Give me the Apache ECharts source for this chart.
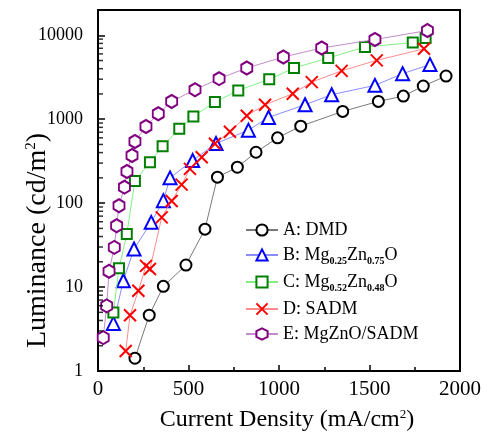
<!DOCTYPE html>
<html>
<head>
<meta charset="utf-8">
<script src="https://cdn.jsdelivr.net/npm/echarts@6/dist/echarts.min.js"></script>
<style>
html,body{margin:0;padding:0;background:#fff;}
#chart{width:493px;height:433px;}
</style>
</head>
<body>
<div id="chart"></div>
<script>
// ---- data (current density mA/cm2, luminance cd/m2) ----
const seriesNames = ['A: DMD', 'B: Mg0.25Zn0.75O', 'C: Mg0.52Zn0.48O', 'D: SADM', 'E: MgZnO/SADM'];

const xA = [204, 283, 361, 486, 591, 660, 770, 873, 992, 1120, 1352, 1549, 1687, 1797, 1923];
const yA = [1.42, 4.62, 10.2, 18.3, 49, 204, 268, 404, 600, 826, 1238, 1630, 1885, 2483, 3266];

const xB = [85, 140, 199, 294, 361, 398, 523, 652, 831, 942, 1144, 1291, 1530, 1683, 1834];
const yB = [3.69, 11.9, 28.4, 59, 107, 200, 322, 513, 740, 1050, 1488, 1959, 2530, 3490, 4470];

const xC = [85, 116, 159, 204, 287, 357, 449, 527, 646, 775, 946, 1083, 1272, 1475, 1739, 1810];
const yC = [4.97, 16.7, 42.9, 184, 307, 477, 769, 1079, 1599, 2204, 2984, 4074, 5356, 7250, 8180, 9290];

const xD = [153, 177, 223, 265, 287, 352, 407, 462, 508, 573, 646, 729, 822, 923, 1076, 1181, 1346, 1540, 1801];
const yD = [1.73, 4.62, 9.02, 17.9, 16.4, 67.7, 106, 166, 256, 352, 509, 708, 1099, 1488, 2014, 2768, 3767, 5026, 6900];

const xE = [29, 48, 61, 90, 103, 116, 146, 160, 188, 204, 265, 333, 407, 536, 669, 822, 1024, 1236, 1530, 1820];
const yE = [2.50, 5.97, 15.4, 29.7, 53.9, 93.3, 155, 238, 369, 543, 819, 1162, 1629, 2248, 3041, 4074, 5508, 7050, 8910, 11380];

const xTicks = [0, 500, 1000, 1500, 2000];
const yTicks = [1, 10, 100, 1000, 10000];
const yMinorTicks = [2,3,4,5,6,7,8,9,20,30,40,50,60,70,80,90,200,300,400,500,600,700,800,900,2000,3000,4000,5000,6000,7000,8000,9000];

// ---- styles ----
const FONT = 'Liberation Serif';
const hexPath = 'path://M0,-1L0.866,-0.5L0.866,0.5L0,1L-0.866,0.5L-0.866,-0.5Z';
const xPath = 'path://M0,0L1,1M1,0L0,1';

function zip(xs, ys) { return xs.map((x, i) => [x, ys[i]]); }

const styles = [
  { data: zip(xA, yA), symbol: 'circle', size: 11, mark: '#000000', line: '#7a7a7a' },
  { data: zip(xB, yB), symbol: 'triangle', size: 13, mark: '#0000ff', line: '#8c8cff' },
  { data: zip(xC, yC), symbol: 'rect', size: 10, mark: '#008000', line: '#84f084' },
  { data: zip(xD, yD), symbol: xPath, size: 12, mark: '#ff0000', line: '#ff8c8c' },
  { data: zip(xE, yE), symbol: hexPath, size: [11, 13], mark: '#800080', line: '#c48ccc' }
];

const series = styles.map((s, i) => ({
  name: seriesNames[i],
  type: 'line',
  data: s.data,
  symbol: s.symbol,
  symbolSize: s.size,
  showAllSymbol: true,
  z: 3 + i,
  lineStyle: { color: s.line, width: 1 },
  itemStyle: { color: '#ffffff', borderColor: s.mark, borderWidth: 2 },
  emphasis: { disabled: true },
  animation: false
}));

// minor log ticks on the y axis, placed through the axis scale
series.push({
  name: 'minorTicks',
  type: 'scatter',
  silent: true,
  animation: false,
  clip: false,
  data: yMinorTicks.map(v => [0, v]),
  symbol: 'rect',
  symbolSize: [4, 1.5],
  symbolOffset: [3, 0],
  itemStyle: { color: '#000' },
  z: 10
});

const chart = echarts.init(document.getElementById('chart'), null, { renderer: 'canvas' });

const legendRich = {
  n: { fontFamily: FONT, fontSize: 18, lineHeight: 22, color: '#000', verticalAlign: 'middle' },
  s: { fontFamily: FONT, fontSize: 10, fontWeight: 'bold', lineHeight: 10, color: '#000', verticalAlign: 'bottom' }
};

chart.setOption({
  backgroundColor: '#ffffff',
  animation: false,
  grid: { left: 98, right: 33, top: 10, bottom: 62, show: true, borderColor: '#000', borderWidth: 2,
          backgroundColor: 'transparent', containLabel: false, outerBoundsMode: 'none' },
  legend: {
    data: seriesNames,
    orient: 'vertical',
    left: 240,
    top: 216,
    itemWidth: 32,
    itemHeight: 14,
    itemGap: 7,
    selectedMode: false,
    formatter: function (name) {
      if (name === seriesNames[1]) return '{n|B: Mg}{s|0.25}{n|Zn}{s|0.75}{n|O}';
      if (name === seriesNames[2]) return '{n|C: Mg}{s|0.52}{n|Zn}{s|0.48}{n|O}';
      return '{n|' + name + '}';
    },
    textStyle: { fontFamily: FONT, fontSize: 18, color: '#000', rich: legendRich }
  },
  xAxis: {
    type: 'value',
    min: 0, max: 2000, interval: 500,
    name: 'Current Density (mA/cm{sup|2})',
    nameLocation: 'middle',
    nameMoveOverlap: false,
    nameGap: 37,
    nameTextStyle: { fontFamily: FONT, fontSize: 24, color: '#000', padding: [0, 0, 0, 16],
      rich: { sup: { fontFamily: FONT, fontSize: 13, color: '#000', verticalAlign: 'top', lineHeight: 13 } } },
    axisLine: { show: true, lineStyle: { color: '#000', width: 2 } },
    axisTick: { show: true, inside: true, length: 6, lineStyle: { color: '#000', width: 1.5 } },
    minorTick: { show: true, splitNumber: 2, length: 4, lineStyle: { color: '#000', width: 1.5 } },
    axisLabel: { fontFamily: FONT, fontSize: 21, color: '#000', margin: 8,
      formatter: function (v) { return xTicks.indexOf(v) >= 0 ? String(v) : ''; } },
    splitLine: { show: false }
  },
  yAxis: {
    type: 'log',
    logBase: 10,
    min: 1, max: 20000,
    name: 'Luminance (cd/m{sup|2})',
    nameLocation: 'middle',
    nameMoveOverlap: false,
    nameGap: 46,
    nameRotate: 90,
    nameTextStyle: { fontFamily: FONT, fontSize: 28, color: '#000', padding: [0, 100, 0, 0],
      rich: { sup: { fontFamily: FONT, fontSize: 15, color: '#000', verticalAlign: 'top', lineHeight: 15 } } },
    axisLine: { show: true, lineStyle: { color: '#000', width: 2 } },
    axisTick: { show: true, inside: true, length: 7, lineStyle: { color: '#000', width: 1.5 } },
    axisLabel: { fontFamily: FONT, fontSize: 18, color: '#000', margin: 15,
      formatter: function (v) {
        const r = Math.round(v);
        return yTicks.indexOf(r) >= 0 && Math.abs(v - r) < 1e-6 ? String(r) : '';
      } },
    splitLine: { show: false }
  },
  series: series
});
</script>
</body>
</html>
